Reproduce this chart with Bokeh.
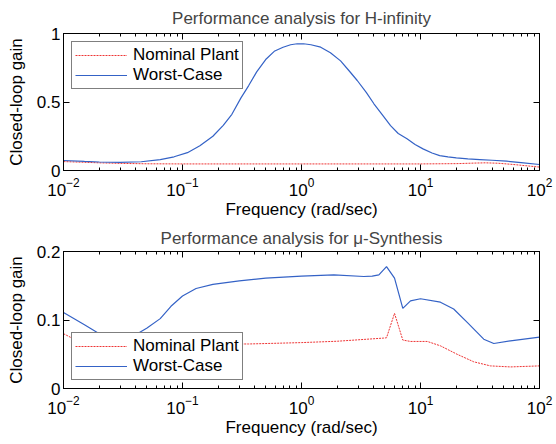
from bokeh.plotting import figure
from bokeh.layouts import column
from bokeh.models import LogAxis, LinearAxis, Legend, LegendItem, FixedTicker, LogTicker, Range1d
from bokeh.embed import file_html
from bokeh.resources import INLINE

FONT = "Liberation Sans"

# ---- data: top (H-infinity) ----
freq_top = [0.01, 0.015, 0.02, 0.03, 0.045, 0.065, 0.085, 0.11, 0.14, 0.18, 0.22, 0.26, 0.31, 0.36, 0.42,
            0.5, 0.59, 0.7, 0.81, 0.92, 1.04, 1.2, 1.45, 1.75, 2.13, 2.5, 2.94, 3.5, 4.06, 4.8, 5.6, 6.5,
            7.7, 9, 10.5, 12.5, 14.5, 17, 20, 25, 31.5, 40, 53, 70, 100]
worst_top = [0.073, 0.066, 0.062, 0.06, 0.064, 0.08, 0.1, 0.13, 0.18, 0.25, 0.33, 0.41, 0.53, 0.62, 0.72,
             0.81, 0.87, 0.9, 0.918, 0.925, 0.925, 0.918, 0.9, 0.86, 0.8, 0.73, 0.657, 0.57, 0.487, 0.405, 0.328, 0.27,
             0.232, 0.19, 0.158, 0.128, 0.109, 0.1, 0.092, 0.085, 0.08, 0.075, 0.068, 0.058, 0.044]
freq_top_nom = [0.01, 0.015, 0.02, 0.03, 0.05, 0.1, 1, 10, 20, 28, 35, 45, 60, 100]
nominal_top = [0.065, 0.06, 0.056, 0.052, 0.049, 0.048, 0.048, 0.048, 0.05, 0.054, 0.056, 0.053, 0.044, 0.025]

# ---- data: bottom (mu-Synthesis) ----
freq_bot = [0.01, 0.015, 0.02, 0.03, 0.04, 0.05, 0.065, 0.08, 0.1, 0.13, 0.18, 0.3, 0.5, 1, 1.87, 3.34, 3.93,
            4.47, 5.18, 6.05, 7.1, 8.24, 10, 14.7, 19, 24.7, 34, 41.3, 57, 100]
worst_bot = [0.111, 0.093, 0.08, 0.076, 0.078, 0.088, 0.102, 0.12, 0.135, 0.146, 0.152, 0.157, 0.161, 0.164, 0.166,
             0.1635, 0.164, 0.166, 0.178, 0.161, 0.117, 0.128, 0.131, 0.126, 0.116, 0.0965, 0.072, 0.0657, 0.0696, 0.075]
freq_bot_nom = [0.01, 0.014, 0.02, 0.05, 0.1, 0.2, 0.36, 1, 2, 4.9, 5.18, 6.05, 7.1, 8.24, 11.4, 14.7, 20.3,
                28, 38.7, 57, 100]
nominal_bot = [0.08, 0.067, 0.064, 0.063, 0.064, 0.065, 0.065, 0.067, 0.069, 0.0736, 0.074, 0.1097, 0.0707, 0.0687,
               0.0687, 0.0623, 0.05, 0.039, 0.033, 0.0315, 0.033]

titles = ["Performance analysis for H-infinity", "Performance analysis for \u03bc-Synthesis"]
y_ticks_top = [0, 0.5, 1]
y_ticks_bot = [0, 0.1, 0.2]
x_label = "Frequency (rad/sec)"
y_label = "Closed-loop gain"
legend_labels = ["Nominal Plant", "Worst-Case"]

RED = "#ee3434"
BLUE = "#3462c6"
FS = "17px"


def style_axis(ax, show_labels=True):
    ax.major_tick_in = 6
    ax.major_tick_out = 0
    ax.minor_tick_in = 3
    ax.minor_tick_out = 0
    ax.axis_line_color = "black"
    ax.major_tick_line_color = "black"
    ax.minor_tick_line_color = "black"
    ax.major_label_text_font = FONT
    if show_labels:
        ax.major_label_text_font_size = FS
        ax.major_label_text_color = "black"
    else:
        ax.major_label_text_font_size = "1px"
        ax.major_label_text_color = None
    ax.axis_label_text_font = FONT
    ax.axis_label_text_font_size = FS
    ax.axis_label_text_font_style = "normal"
    ax.axis_label_text_color = "black"


def make_panel(title, fx, worst, fnom, nominal, yticks, ymax, top_border, bottom_border, legend_loc, standoff):
    p = figure(width=556, height=222, x_axis_type="log", output_backend="svg", toolbar_location=None,
               x_range=Range1d(0.01, 100), y_range=Range1d(0, ymax),
               min_border_left=63, min_border_right=17, min_border_top=top_border,
               min_border_bottom=bottom_border)
    p.title.text = title
    p.title.text_font = FONT
    p.title.text_font_size = FS
    p.title.text_font_style = "normal"
    p.title.align = "center"
    p.title.vertical_align = "top"
    p.title.standoff = standoff
    p.xgrid.visible = False
    p.ygrid.visible = False
    p.outline_line_color = "black"
    p.background_fill_color = "white"
    p.border_fill_color = "white"

    xa = p.xaxis[0]
    xa.ticker = LogTicker(desired_num_ticks=5, num_minor_ticks=10)
    xa.axis_label = x_label
    xa.major_label_standoff = 7
    xa.axis_label_standoff = 1
    style_axis(xa)
    ya = p.yaxis[0]
    ya.ticker = FixedTicker(ticks=yticks, minor_ticks=[])
    ya.axis_label = y_label
    ya.major_label_standoff = 3
    ya.axis_label_standoff = 8
    style_axis(ya)

    top = LogAxis(ticker=LogTicker(desired_num_ticks=5, num_minor_ticks=10))
    style_axis(top, show_labels=False)
    top.major_label_standoff = 0
    p.add_layout(top, "above")
    right = LinearAxis(ticker=FixedTicker(ticks=yticks, minor_ticks=[]))
    style_axis(right, show_labels=False)
    right.major_label_standoff = 0
    p.add_layout(right, "right")

    r_nom = p.line(fnom, nominal, line_color=RED, line_width=1, line_dash="2 1")
    r_w = p.line(fx, worst, line_color=BLUE, line_width=1.2)

    leg = Legend(items=[LegendItem(label=legend_labels[0], renderers=[r_nom]),
                        LegendItem(label=legend_labels[1], renderers=[r_w])],
                 location=legend_loc)
    leg.label_text_font = FONT
    leg.label_text_font_size = FS
    leg.label_text_color = "black"
    leg.border_line_color = "black"
    leg.border_line_width = 1
    leg.background_fill_color = "white"
    leg.background_fill_alpha = 1
    leg.glyph_width = 52
    leg.glyph_height = 18
    leg.label_height = 18
    leg.spacing = 0
    leg.padding = 3
    leg.margin = 8
    leg.label_standoff = 6
    p.add_layout(leg, "center")
    return p


p1 = make_panel(titles[0], freq_top, worst_top, freq_top_nom, nominal_top, y_ticks_top, 1.0, 33, 52,
                "top_left", 7)
p2 = make_panel(titles[1], freq_bot, worst_bot, freq_bot_nom, nominal_bot, y_ticks_bot, 0.2, 29, 56,
                "bottom_left", 4)

layout = column(p1, p2, spacing=0)
open("out.html", "w").write(file_html(layout, INLINE))
